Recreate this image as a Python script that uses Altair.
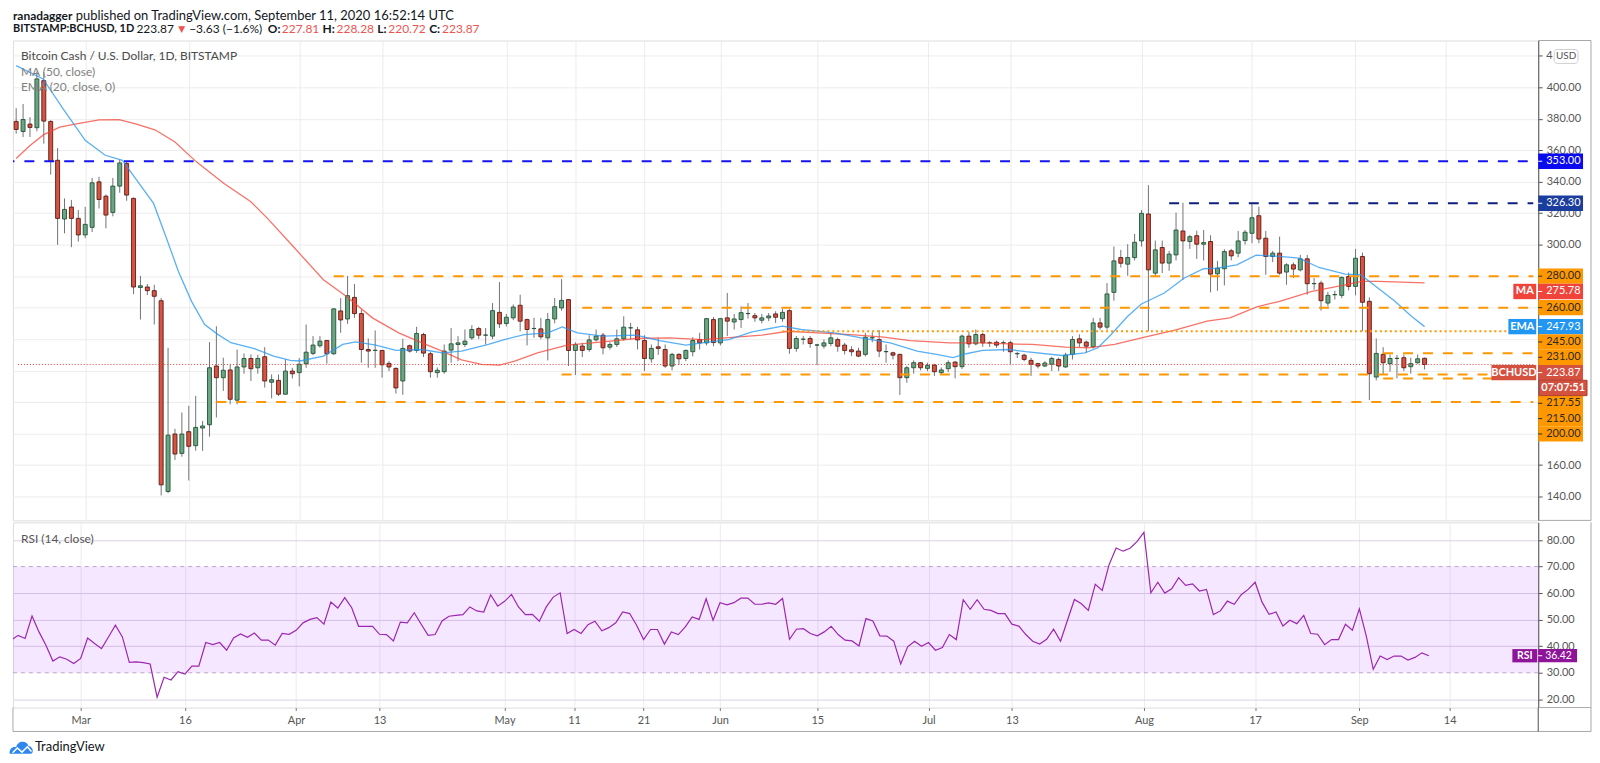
import json
import altair as alt
import pandas as pd

# ---------------------------------------------------------------- data
FIRST_CANDLE = "2020-02-20"
DAY_ZERO = "2020-03-01"          # x = 0 on the time axis

opens = [
    378.3, 371.9, 376.6, 374.3, 404.2, 378.3, 353.6, 316.3, 323.9, 316.7,
    306.2, 311.0, 339.9, 330.8, 320.5, 337.2, 351.5, 329.4, 272.8, 273.1,
    270.8, 264.4, 143.2, 179.7, 167.4, 181.2, 172.3, 183.5, 185.6, 222.9,
    215.5, 220.4, 201.2, 222.3, 227.7, 221.8, 228.8, 212.6, 213.8, 205.0,
    219.7, 218.7, 224.4, 230.9, 235.8, 239.1, 230.7, 257.9, 252.8, 266.5,
    256.2, 233.4, 232.8, 232.8, 224.6, 221.4, 213.4, 235.8, 232.8, 242.9,
    230.7, 218.7, 219.3, 233.0, 236.6, 236.6, 240.8, 246.7, 242.5, 241.9,
    257.0, 249.9, 253.5, 261.5, 252.4, 246.7, 246.5, 240.8, 252.8, 259.8,
    265.1, 232.8, 235.6, 233.4, 239.5, 242.5, 234.9, 236.6, 240.2, 247.1,
    245.9, 239.1, 227.5, 235.1, 233.4, 222.9, 230.3, 227.7, 232.0, 239.7,
    237.6, 252.4, 237.6, 253.5, 250.9, 252.4, 256.2, 254.9, 252.0, 253.5,
    256.0, 253.0, 258.1, 234.1, 239.9, 240.4, 236.2, 235.6, 237.2, 239.7,
    236.2, 233.2, 232.4, 230.3, 240.8, 239.7, 232.0, 231.3, 230.3, 215.5,
    221.8, 225.0, 221.4, 223.5, 218.7, 221.2, 225.4, 222.5, 241.9, 237.0,
    242.9, 237.6, 238.0, 237.6, 237.7, 230.7, 229.8, 226.5, 224.4, 222.9,
    224.0, 227.1, 222.3, 230.3, 240.2, 238.1, 235.1, 250.3, 247.6, 269.7,
    291.8, 287.6, 291.8, 302.4, 319.5, 281.9, 298.2, 288.3, 293.5, 308.7,
    302.0, 305.7, 300.3, 302.0, 281.5, 284.7, 296.1, 294.6, 302.6, 307.2,
    318.4, 304.1, 292.5, 294.6, 282.6, 287.2, 284.0, 291.0, 275.2, 275.6,
    262.9, 268.2, 267.8, 279.8, 273.5, 292.5, 264.0, 215.9, 230.3, 224.4,
    227.7, 228.2, 222.5, 225.0, 227.81,
]
highs = [
    386.7, 389.4, 381.0, 410.0, 409.5, 379.0, 361.4, 329.4, 328.3, 322.0,
    324.0, 342.4, 343.1, 331.9, 342.4, 354.0, 353.0, 330.0, 280.2, 275.0,
    274.5, 266.1, 234.5, 183.0, 193.4, 197.6, 204.0, 188.0, 238.1, 248.2,
    228.2, 224.0, 233.4, 230.9, 230.3, 230.0, 234.9, 217.6, 217.6, 227.1,
    221.8, 228.0, 249.3, 241.9, 241.9, 239.5, 259.7, 266.1, 280.2, 275.0,
    258.7, 240.4, 245.5, 233.0, 226.0, 222.0, 240.2, 236.6, 247.8, 244.0,
    232.0, 222.0, 236.6, 247.1, 241.9, 246.1, 248.8, 247.8, 247.1, 262.9,
    276.2, 256.0, 262.0, 268.2, 253.0, 253.5, 253.5, 256.6, 266.1, 278.1,
    265.5, 238.0, 237.6, 242.5, 246.1, 244.0, 238.0, 246.1, 254.5, 250.3,
    247.8, 242.5, 236.6, 240.8, 236.6, 231.3, 231.0, 233.4, 241.2, 244.0,
    253.5, 254.0, 253.5, 269.3, 256.0, 260.8, 262.9, 256.6, 256.0, 256.6,
    257.7, 259.2, 259.0, 242.0, 241.9, 241.9, 237.0, 239.8, 244.0, 241.0,
    237.6, 235.5, 234.5, 244.0, 244.4, 245.7, 236.6, 232.0, 230.7, 223.0,
    226.5, 225.5, 225.0, 224.4, 222.0, 226.5, 226.0, 242.9, 244.6, 246.1,
    244.0, 238.7, 239.0, 239.1, 239.0, 232.0, 230.7, 228.2, 225.0, 226.0,
    228.8, 228.2, 231.3, 241.9, 243.0, 239.0, 253.5, 253.5, 275.6, 298.8,
    296.7, 300.3, 306.8, 322.0, 337.8, 302.6, 302.6, 296.0, 320.3, 326.6,
    306.2, 308.9, 309.3, 306.0, 289.7, 297.1, 297.3, 308.7, 309.3, 326.2,
    324.1, 308.7, 296.0, 305.1, 288.2, 288.7, 293.5, 293.5, 278.8, 277.1,
    270.0, 270.7, 279.8, 282.3, 297.3, 295.0, 266.5, 240.4, 234.9, 230.3,
    230.0, 230.3, 228.2, 230.3, 228.28,
]
lows = [
    370.5, 368.4, 368.4, 372.0, 364.2, 344.5, 299.9, 307.2, 298.4, 302.0,
    304.1, 308.0, 323.0, 310.4, 318.0, 333.0, 327.9, 268.6, 252.4, 268.0,
    249.3, 140.7, 142.2, 163.2, 165.3, 150.2, 169.1, 169.0, 178.0, 190.2,
    207.1, 198.6, 198.6, 218.0, 213.4, 218.0, 209.2, 202.4, 203.9, 205.0,
    215.0, 210.0, 221.8, 229.8, 234.5, 224.4, 230.0, 244.0, 249.7, 253.5,
    225.0, 221.8, 221.8, 215.5, 219.7, 205.4, 204.6, 231.5, 231.3, 228.6,
    215.5, 215.5, 218.0, 225.0, 226.0, 235.0, 239.5, 240.0, 236.6, 240.0,
    247.0, 248.0, 252.0, 245.0, 236.0, 240.8, 240.0, 226.5, 250.0, 258.0,
    222.9, 217.2, 228.6, 232.0, 238.5, 230.3, 233.4, 235.0, 239.0, 239.8,
    233.4, 219.7, 225.0, 230.0, 221.8, 220.1, 223.7, 226.0, 229.0, 233.4,
    236.0, 235.5, 236.0, 241.9, 246.1, 247.1, 253.0, 251.0, 250.0, 251.4,
    250.3, 251.0, 230.7, 232.0, 236.6, 234.5, 223.5, 234.0, 235.5, 232.0,
    230.3, 229.2, 228.5, 229.0, 238.0, 228.6, 225.0, 227.1, 204.5, 212.3,
    218.0, 220.1, 219.7, 216.6, 217.5, 219.0, 215.1, 221.0, 234.5, 236.0,
    235.1, 235.0, 234.5, 232.0, 224.0, 228.0, 226.0, 216.6, 221.4, 222.3,
    219.7, 219.7, 221.8, 227.1, 234.9, 231.3, 234.0, 246.0, 246.0, 264.4,
    285.5, 280.2, 290.0, 298.8, 245.0, 279.8, 282.0, 283.4, 290.0, 277.7,
    297.3, 291.0, 290.0, 269.7, 270.7, 274.1, 290.0, 292.0, 300.0, 301.0,
    300.9, 280.9, 288.9, 280.9, 274.5, 278.8, 283.0, 268.2, 271.4, 258.1,
    260.8, 265.1, 266.0, 271.0, 267.8, 245.0, 201.2, 213.8, 217.6, 219.3,
    215.1, 219.7, 218.0, 224.4, 220.72,
]
closes = [
    373.2, 379.5, 374.5, 405.3, 378.5, 353.0, 316.7, 322.4, 316.7, 306.2,
    312.9, 339.3, 328.7, 318.8, 337.2, 351.9, 331.5, 273.1, 273.9, 270.8,
    267.2, 147.4, 179.0, 167.0, 179.7, 171.9, 183.9, 184.8, 221.8, 215.5,
    220.2, 201.8, 222.3, 227.7, 221.2, 227.7, 213.4, 214.2, 205.0, 219.7,
    218.0, 224.0, 231.7, 236.2, 238.7, 230.7, 259.2, 252.2, 267.6, 256.2,
    233.4, 232.4, 232.9, 223.7, 222.3, 209.0, 234.1, 232.4, 243.6, 231.1,
    219.3, 220.2, 232.4, 237.0, 237.6, 238.7, 246.1, 242.5, 242.6, 258.1,
    249.7, 253.9, 260.4, 251.4, 246.1, 246.8, 241.5, 252.4, 260.6, 264.6,
    232.8, 236.6, 232.8, 239.5, 241.9, 234.5, 236.6, 240.2, 247.6, 247.2,
    239.5, 227.7, 234.1, 234.1, 222.9, 230.3, 227.5, 232.8, 239.1, 237.6,
    253.0, 237.8, 253.0, 251.4, 252.8, 256.8, 256.3, 253.5, 253.5, 254.7,
    253.9, 257.0, 234.1, 240.4, 240.0, 237.2, 236.3, 237.6, 240.8, 235.5,
    232.8, 232.0, 229.2, 241.2, 240.9, 232.4, 232.1, 229.8, 215.5, 221.8,
    225.0, 221.8, 223.3, 219.3, 220.4, 225.0, 222.5, 241.9, 237.0, 242.9,
    237.6, 237.7, 236.2, 237.7, 232.0, 230.8, 227.1, 224.0, 222.9, 224.8,
    227.7, 222.9, 229.8, 239.8, 237.6, 235.5, 250.3, 247.6, 268.7, 289.7,
    288.2, 291.8, 301.5, 319.9, 284.0, 296.7, 288.3, 294.0, 309.3, 302.4,
    305.1, 300.3, 301.3, 281.3, 285.1, 295.6, 292.9, 302.4, 307.9, 317.1,
    303.6, 292.5, 294.6, 281.9, 287.2, 284.5, 291.0, 275.2, 275.3, 264.4,
    267.8, 268.3, 279.2, 273.5, 291.4, 263.4, 218.0, 230.9, 225.0, 227.7,
    227.8, 221.8, 224.4, 227.5, 223.87,
]

# MA(50) and EMA(20) (day offsets from 1 March)
ma_days = [-10, -8, -6, -3.7, -1.3, 2, 4.9, 7.3, 10.1, 13, 16.1, 20.1, 24, 26.4,
           29.7, 34.5, 37.8, 41.6, 45.4, 48.8, 51.7, 54.5, 57.4, 60, 62.2, 65.5,
           69.8, 75, 79.8, 84.6, 89.4, 94.2, 98, 101.8, 106.1, 110.9, 115.7,
           119.5, 125.2, 130, 133.8, 137.2, 142, 145.3, 149.1, 153, 157.7, 162.5,
           165.8, 169.7, 173, 177.7, 182.5, 184.9, 187.3, 194]
ma_vals = [354.7, 363.0, 369.9, 374.7, 376.8, 379.3, 379.5, 376.8, 373.0, 365.2,
           352.6, 338.9, 327.3, 316.7, 300.9, 277.7, 267.2, 253.5, 244.0, 237.6,
           232.4, 226.8, 224.0, 223.5, 226.0, 231.3, 236.2, 238.3, 240.4, 240.8,
           239.7, 241.2, 242.5, 245.0, 244.0, 242.9, 241.2, 239.1, 237.6, 237.6,
           237.0, 236.6, 234.9, 234.5, 236.6, 240.8, 245.5, 251.4, 253.5, 260.5,
           264.0, 270.3, 274.5, 276.7, 276.7, 275.78]
ema_days = [-10, -6.1, -3.2, 0, 2.9, 5.4, 7.3, 9.9, 11.6, 13.5, 15.4, 17.3, 19.2,
            21.1, 24.5, 27.3, 29.7, 31.1, 34.5, 37.3, 39.2, 42.1, 45, 48.8, 51.7,
            54.5, 58.4, 60.7, 63.6, 67, 69.1, 71.3, 75, 79.8, 83.2, 87, 89.4, 93.2,
            96.6, 101, 103.7, 108.5, 112.8, 116.6, 120.5, 123.3, 125.7, 127.6, 130,
            133.8, 136.2, 141.5, 144.8, 146.7, 148.6, 151, 153, 156.3, 159.2, 162,
            164, 166.8, 169.6, 173, 175.8, 178.7, 182.5, 184.7, 186.3, 189.7, 192.1,
            194]
ema_vals = [413.7, 405.3, 386.3, 366.3, 356.8, 353.6, 342.0, 326.2, 306.2, 283.0,
            264.0, 249.3, 243.0, 237.7, 234.0, 229.2, 226.5, 226.1, 229.2, 236.6,
            238.3, 236.2, 232.8, 233.4, 231.3, 232.4, 236.6, 239.7, 242.9, 244.0,
            247.8, 244.0, 241.9, 242.5, 239.1, 236.2, 237.6, 239.7, 244.6, 248.2,
            246.1, 244.0, 240.4, 237.6, 232.4, 230.3, 228.2, 230.7, 232.8, 233.4,
            232.0, 229.6, 231.3, 234.5, 242.9, 254.5, 262.3, 269.3, 278.8, 284.7,
            285.1, 287.2, 293.3, 292.5, 291.4, 285.5, 281.3, 280.9, 275.6, 264.0,
            254.5, 247.93]

# RSI(14), one value per candle
rsi_vals = [
    42.3, 44.1, 42.9, 51.4, 45.4, 40.4, 34.4, 36.0, 35.1, 33.5,
    35.4, 43.1, 41.0, 39.1, 43.5, 47.9, 43.5, 33.9, 34.1, 33.8,
    33.3, 20.8, 28.3, 27.3, 30.4, 29.5, 32.5, 32.5, 41.4, 40.6,
    41.4, 38.5, 43.1, 44.6, 43.4, 45.0, 42.3, 42.3, 40.4, 44.8,
    44.5, 46.0, 48.8, 50.1, 50.8, 48.3, 56.6, 54.4, 58.3, 54.5,
    47.5, 47.5, 47.5, 44.5, 44.4, 42.0, 49.1, 48.8, 52.6, 48.3,
    44.1, 44.4, 49.5, 51.3, 51.6, 51.9, 54.8, 53.3, 52.9, 59.4,
    55.1, 56.9, 59.5, 54.8, 51.9, 52.0, 49.4, 54.8, 58.5, 60.1,
    44.8, 46.3, 44.8, 48.1, 49.4, 45.8, 47.0, 48.8, 52.9, 52.3,
    47.9, 42.5, 46.3, 46.3, 40.8, 45.4, 44.4, 47.3, 51.0, 50.1,
    57.9, 49.8, 56.4, 55.6, 56.4, 58.1, 58.1, 55.8, 55.8, 56.3,
    55.8, 58.0, 42.6, 46.4, 46.6, 44.8, 43.9, 45.4, 47.5, 44.4,
    42.3, 42.0, 40.1, 50.4, 49.5, 43.9, 43.8, 41.9, 33.3, 39.8,
    41.9, 40.0, 41.4, 38.5, 39.5, 44.4, 42.5, 57.5, 53.9, 57.5,
    53.9, 53.5, 52.3, 52.3, 48.3, 47.6, 44.4, 41.9, 40.8, 42.6,
    46.4, 41.9, 49.8, 57.6, 56.0, 53.5, 63.3, 61.0, 70.8, 77.0,
    75.8, 76.9, 79.4, 82.9, 60.1, 64.1, 60.0, 61.6, 65.8, 62.9,
    63.5, 60.8, 61.4, 51.9, 53.3, 57.0, 55.8, 59.4, 61.4, 64.1,
    56.6, 52.0, 52.9, 47.6, 49.8, 48.5, 51.6, 44.8, 44.5, 40.6,
    42.5, 42.5, 48.3, 46.0, 54.1, 43.8, 31.3, 36.3, 35.0, 36.3,
    36.3, 34.8, 35.8, 37.5, 36.42,
]

tick_dates = ["2020-03-01", "2020-03-16", "2020-04-01", "2020-04-13", "2020-05-01",
              "2020-05-11", "2020-05-21", "2020-06-01", "2020-06-15", "2020-07-01",
              "2020-07-13", "2020-08-01", "2020-08-17", "2020-09-01", "2020-09-14"]
tick_labels = ["Mar", "16", "Apr", "13", "May", "11", "21", "Jun", "15", "Jul",
               "13", "Aug", "17", "Sep", "14"]

orange_levels = [280.0, 260.0, 231.0, 217.55, 215.0, 200.0]
orange_starts = ["2020-04-06", "2020-05-12", "2020-09-05", "2020-05-09", "2020-09-05", "2020-03-20"]
dotted_levels = [245.0]
dotted_starts = ["2020-06-10"]
blue_levels = [353.0]
blue_starts = ["2020-02-01"]
navy_levels = [326.3]
navy_starts = ["2020-08-05"]

price_axis_ticks = list(range(140, 421, 20))
rsi_axis_ticks = [20, 30, 40, 50, 60, 70, 80]
countdown = "07:07:51"

# ---------------------------------------------------------------- geometry
W = 1532
H_MAIN = 482
H_RSI = 186
PX_DAY = 6.98
PX_USD = 1.581
PX_RSI = 2.667
X0 = -9.742
X1 = X0 + W / PX_DAY
P_TOP = 429.7
P_BOT = P_TOP - H_MAIN / PX_USD
R_TOP = 86.64
R_BOT = R_TOP - H_RSI / PX_RSI

FONT = "Lato"
DARK = "#131722"
AXIS_TXT = "#555555"
GRID = "#ececec"
FRAME = "#a8a8a8"
AXIS_LINE = "#4f4f4f"
UP_FILL, UP_LINE = "#6ba583", "#225437"
DN_FILL, DN_LINE = "#d75442", "#5b1a13"
WICK = "#737375"
ORANGE = "#ff9800"
RED_TXT = "#ef5350"
MA_COL = "#f44336"
EMA_COL = "#2196f3"
PRICE_BOX = "#d4503f"
RSI_COL = "#8e1599"

day0 = pd.Timestamp(DAY_ZERO)


def dayoff(d):
    return (pd.Timestamp(d) - day0).days


first = dayoff(FIRST_CANDLE)
days = list(range(first, first + len(closes)))
tick_days = [dayoff(d) for d in tick_dates]

candles = pd.DataFrame({"day": days, "open": opens, "high": highs,
                        "low": lows, "close": closes})
ma_df = pd.DataFrame({"day": ma_days, "v": ma_vals})
ema_df = pd.DataFrame({"day": ema_days, "v": ema_vals})
rsi_df = pd.DataFrame({"day": days, "rsi": rsi_vals})


def levels(prices, starts):
    return pd.DataFrame({"price": prices, "start": [dayoff(s) for s in starts],
                         "end": [X1] * len(prices)})


label_expr = "%s[indexof(%s, datum.value)]" % (json.dumps(tick_labels), json.dumps(tick_days))
TOP_TICK = price_axis_ticks[-1]          # its label sits under the USD badge

x_scale = alt.Scale(domain=[X0, X1], nice=False, zero=False)
x_axis_main = alt.Axis(values=tick_days, labels=False, ticks=False, domain=False,
                       grid=True, gridColor=GRID, title=None)
x_axis_rsi = alt.Axis(values=tick_days, labelExpr=label_expr, ticks=True, tickSize=3,
                      tickColor="#777777", labelPadding=4, domain=False, grid=True,
                      gridColor=GRID, title=None, labelFontSize=11, labelColor=AXIS_TXT,
                      labelFont=FONT, labelFlush=False)
y_scale = alt.Scale(domain=[P_BOT, P_TOP], nice=False, zero=False)
y_axis = alt.Axis(orient="right", values=price_axis_ticks, title=None,
                  labelExpr="datum.value == %d ? '' : format(datum.value, '.2f')" % TOP_TICK,
                  labelFontSize=11, labelColor=AXIS_TXT, labelFont=FONT, tickSize=4,
                  tickColor=AXIS_TXT, labelPadding=4, domainColor=AXIS_LINE,
                  gridColor=GRID, labelFlush=False)
r_scale = alt.Scale(domain=[R_BOT, R_TOP], nice=False, zero=False)
r_axis = alt.Axis(orient="right", values=rsi_axis_ticks, format=".2f", title=None,
                  labelFontSize=11, labelColor=AXIS_TXT, labelFont=FONT, tickSize=4,
                  tickColor=AXIS_TXT, labelPadding=4, domainColor=AXIS_LINE,
                  gridColor="#dcd3e3",
                  gridOpacity=alt.condition("datum.value == 30 || datum.value == 70",
                                            alt.value(0), alt.value(1)),
                  labelFlush=False)


def X(field="day"):
    return alt.X(f"{field}:Q", scale=x_scale, axis=x_axis_main)


def Y(field):
    return alt.Y(f"{field}:Q", scale=y_scale, axis=y_axis)


def XR(field="day"):
    return alt.X(f"{field}:Q", scale=x_scale, axis=x_axis_rsi)


def YR(field):
    return alt.Y(f"{field}:Q", scale=r_scale, axis=r_axis)


ONE = pd.DataFrame({"k": [0]})


def txt(text, x, y, size=12, color=DARK, weight="normal", align="left", font=FONT):
    return alt.Chart(ONE).mark_text(text=text, align=align, baseline="middle",
                                    fontSize=size, font=font, fontWeight=weight,
                                    color=color).encode(x=alt.value(x), y=alt.value(y))


def hline(x, x2, y, color=FRAME, width=1):
    return alt.Chart(ONE).mark_rule(color=color, strokeWidth=width).encode(
        x=alt.value(x), x2=alt.value(x2), y=alt.value(y))


def vline(x, y, y2, color=FRAME, width=1):
    return alt.Chart(ONE).mark_rule(color=color, strokeWidth=width).encode(
        x=alt.value(x), y=alt.value(y), y2=alt.value(y2))


# ---------------------------------------------------------------- main panel
is_up = "datum.close >= datum.open"
wicks = alt.Chart(candles).mark_rule(color=WICK, strokeWidth=1, clip=True).encode(
    x=X(), y=Y("low"), y2="high:Q")
bodies = alt.Chart(candles).mark_bar(size=4, strokeWidth=0.9, clip=True).encode(
    x=X(), y=Y("open"), y2="close:Q",
    fill=alt.condition(is_up, alt.value(UP_FILL), alt.value(DN_FILL)),
    stroke=alt.condition(is_up, alt.value(UP_LINE), alt.value(DN_LINE)))
ma_line = alt.Chart(ma_df).mark_line(color=MA_COL, opacity=0.75, strokeWidth=1.3,
                                     clip=True).encode(x=X(), y=Y("v"))
ema_line = alt.Chart(ema_df).mark_line(color=EMA_COL, opacity=0.75, strokeWidth=1.3,
                                       clip=True).encode(x=X(), y=Y("v"))


def level_layer(df, color, dash, width=2):
    return alt.Chart(df).mark_rule(color=color, strokeDash=dash, strokeWidth=width,
                                   clip=True).encode(x=X("start"), x2="end:Q", y=Y("price"))


lv_orange = level_layer(levels(orange_levels, orange_starts), ORANGE, [10, 10])
lv_dotted = level_layer(levels(dotted_levels, dotted_starts), ORANGE, [2, 3])
lv_blue = level_layer(levels(blue_levels, blue_starts), "#1414f0", [10, 10])
lv_navy = level_layer(levels(navy_levels, navy_starts), "#0e1f80", [10, 10])
last_df = pd.DataFrame({"price": [closes[-1]], "start": [X0], "end": [X1]})
lv_last = alt.Chart(last_df).mark_rule(color="#e0453a", strokeDash=[1, 2],
                                       strokeWidth=1, clip=True).encode(
    x=X("start"), x2="end:Q", y=Y("price"))

# right-hand price labels, pushed down so they never overlap
lab_rows = [
    ("353.00", 353.0, "#0a0af0", "white"),
    ("326.30", 326.3, "#1b3d9e", "white"),
    ("280.00", 280.0, ORANGE, "#2a2a2a"),
    ("%.2f" % ma_vals[-1], ma_vals[-1], "#f0443a", "white"),
    ("260.00", 260.0, ORANGE, "#2a2a2a"),
    ("%.2f" % ema_vals[-1], ema_vals[-1], EMA_COL, "white"),
    ("245.00", 245.0, ORANGE, "#2a2a2a"),
    ("231.00", 231.0, ORANGE, "#2a2a2a"),
    ("%.2f" % closes[-1], closes[-1], PRICE_BOX, "white"),
    (countdown, closes[-1], PRICE_BOX, "white"),
    ("217.55", 217.55, ORANGE, "#2a2a2a"),
    ("215.00", 215.0, ORANGE, "#2a2a2a"),
    ("200.00", 200.0, ORANGE, "#2a2a2a"),
]
STEP = 15.4
rows, prev = [], -1e9
for text, price, bg, fg in lab_rows:
    own = (P_TOP - price) * PX_USD
    c = max(own, prev + STEP)
    prev = c
    pc = P_TOP - c / PX_USD
    half = (STEP / 2) / PX_USD
    rows.append({"text": text, "yc": pc, "yt": pc + half, "yb": pc - half,
                 "bg": bg, "fg": fg, "timer": text == countdown})
labs = pd.DataFrame(rows)
reg = labs[~labs.timer]
tim = labs[labs.timer]

lab_box = alt.Chart(reg).mark_rect().encode(
    x=alt.value(W), x2=alt.value(W + 45), y=Y("yt"), y2="yb:Q",
    fill=alt.Color("bg:N", scale=None))
lab_tick = alt.Chart(reg).mark_rule(strokeWidth=1).encode(
    x=alt.value(W), x2=alt.value(W + 4), y=Y("yc"), color=alt.Color("fg:N", scale=None))
lab_txt = alt.Chart(reg).mark_text(align="left", baseline="middle", fontSize=11,
                                   font=FONT).encode(
    x=alt.value(W + 8), y=Y("yc"), text="text:N", color=alt.Color("fg:N", scale=None))
tim_box = alt.Chart(tim).mark_rect(stroke="#b03a2e", strokeWidth=1).encode(
    x=alt.value(W + 1), x2=alt.value(W + 49), y=Y("yt"), y2="yb:Q",
    fill=alt.Color("bg:N", scale=None))
tim_txt = alt.Chart(tim).mark_text(align="center", baseline="middle", fontSize=11,
                                   font=FONT, fontWeight="bold").encode(
    x=alt.value(W + 25), y=Y("yc"), text="text:N", color=alt.Color("fg:N", scale=None))


def name_tag(name, text, x0, bg):
    d = labs[labs.text == text]
    box = alt.Chart(d).mark_rect().encode(x=alt.value(x0), x2=alt.value(W - 2),
                                          y=Y("yt"), y2="yb:Q", fill=alt.value(bg))
    t = alt.Chart(d).mark_text(text=name, align="center", baseline="middle", fontSize=11,
                               font=FONT, fontWeight="bold", color="white").encode(
        x=alt.value((x0 + W - 2) / 2), y=Y("yc"))
    return [box, t]


tags = (name_tag("MA", "%.2f" % ma_vals[-1], W - 25, "#f0443a")
        + name_tag("EMA", "%.2f" % ema_vals[-1], W - 30, EMA_COL)
        + name_tag("BCHUSD", "%.2f" % closes[-1], W - 47, PRICE_BOX))

# top tick label: only its first digit peeks out from under the USD badge
top_digit = alt.Chart(ONE).mark_text(text=str(TOP_TICK)[0], align="left", baseline="middle",
                                     fontSize=11, font=FONT, color=AXIS_TXT).encode(
    x=alt.value(W + 8), y=alt.value((P_TOP - TOP_TICK) * PX_USD))
usd_box = alt.Chart(ONE).mark_rect(fill="white", stroke="#cfcfcf", strokeWidth=1,
                                   cornerRadius=3).encode(
    x=alt.value(W + 16), x2=alt.value(W + 40), y=alt.value(9), y2=alt.value(23))
usd_txt = txt("USD", W + 28, 16, size=10, color=AXIS_TXT, align="center")

L1, L2 = -24.5, -11.5
header = [
    txt("ranadagger", 0, L1, weight="bold"),
    txt("published on TradingView.com, September 11, 2020 16:52:14 UTC", 63, L1, size=13),
    txt("BITSTAMP:BCHUSD, 1D", 0, L2, size=11, weight="bold"),
    txt("223.87", 124, L2),
    txt("\u25bc", 166, L2, size=9, color=RED_TXT, font="DejaVu Sans"),
    txt("\u22123.63 (\u22121.6%)", 177, L2),
    txt("O:", 256, L2, weight="bold"), txt("227.81", 270, L2, color=RED_TXT),
    txt("H:", 311, L2, weight="bold"), txt("228.28", 325, L2, color=RED_TXT),
    txt("L:", 366, L2, weight="bold"), txt("220.72", 377, L2, color=RED_TXT),
    txt("C:", 418, L2, weight="bold"), txt("223.87", 431, L2, color=RED_TXT),
    txt("Bitcoin Cash / U.S. Dollar, 1D, BITSTAMP", 8, 15.3, color="#4a4a4a"),
    txt("MA (50, close)", 8, 31.3, color="#808080"),
    txt("EMA (20, close, 0)", 8, 47, color="#808080"),
]

frames_main = [
    hline(W, W + 53, 0), hline(W, W + 53, H_MAIN), vline(W + 53, 0, H_MAIN),
]

main = alt.layer(
    wicks, bodies, ma_line, ema_line,
    lv_blue, lv_navy, lv_orange, lv_dotted, lv_last,
    lab_box, lab_tick, lab_txt, tim_box, tim_txt, *tags,
    top_digit, usd_box, usd_txt, *header, *frames_main,
).properties(width=W, height=H_MAIN)

# ---------------------------------------------------------------- RSI panel
band = alt.Chart(pd.DataFrame({"hi": [70], "lo": [30]})).mark_rect(
    fill="#9915ff", fillOpacity=0.1).encode(
    x=alt.value(0), x2=alt.value(W), y=YR("hi"), y2="lo:Q")
band_lines = alt.Chart(pd.DataFrame({"lvl": [30, 70]})).mark_rule(
    color="#b9a6c9", strokeDash=[4, 4], strokeWidth=1).encode(
    x=alt.value(0), x2=alt.value(W), y=YR("lvl"))
rsi_line = alt.Chart(rsi_df).mark_line(color="#9c27b0", strokeWidth=1.2,
                                       clip=True).encode(x=XR(), y=YR("rsi"))
rsi_last = pd.DataFrame({"yc": [rsi_vals[-1]], "yt": [rsi_vals[-1] + 2.5],
                         "yb": [rsi_vals[-1] - 2.5], "text": ["%.2f" % rsi_vals[-1]]})
rsi_box = alt.Chart(rsi_last).mark_rect(fill=RSI_COL).encode(
    x=alt.value(W), x2=alt.value(W + 39), y=YR("yt"), y2="yb:Q")
rsi_tag = alt.Chart(rsi_last).mark_rect(fill=RSI_COL).encode(
    x=alt.value(W - 26), x2=alt.value(W - 1), y=YR("yt"), y2="yb:Q")
rsi_tick = alt.Chart(rsi_last).mark_rule(color="white").encode(
    x=alt.value(W), x2=alt.value(W + 4), y=YR("yc"))
rsi_val = alt.Chart(rsi_last).mark_text(align="left", baseline="middle", fontSize=10.5,
                                        font=FONT, color="white").encode(
    x=alt.value(W + 7), y=YR("yc"), text="text:N")
rsi_name = alt.Chart(rsi_last).mark_text(text="RSI", align="center", baseline="middle",
                                         fontSize=10.5, font=FONT, fontWeight="bold",
                                         color="white").encode(
    x=alt.value(W - 13.5), y=YR("yc"))

LOGO_X, LOGO_Y = 8.5, 226
logo_cloud = alt.Chart(ONE).mark_point(
    shape="M -1 0.55 C -1.05 0.1 -0.7 -0.1 -0.45 0 C -0.35 -0.6 0.45 -0.65 0.6 -0.1 "
          "C 1 -0.12 1.1 0.55 0.75 0.55 Z",
    filled=True, fill="#2e86f0", strokeWidth=0, size=560, opacity=1).encode(
    x=alt.value(LOGO_X), y=alt.value(LOGO_Y))
logo_zig = alt.Chart(ONE).mark_point(
    shape="M -0.75 0.45 L -0.35 0.05 L 0.05 0.4 L 0.5 -0.05 L 0.85 0.35",
    filled=False, stroke="white", strokeWidth=1.6, size=560, opacity=1).encode(
    x=alt.value(LOGO_X), y=alt.value(LOGO_Y))

frames_rsi = [
    hline(W, W + 53, H_RSI), hline(0, W + 53, H_RSI + 24), vline(W + 53, 0, H_RSI + 24),
    vline(W, H_RSI, H_RSI + 24, color=AXIS_LINE), vline(0, H_RSI, H_RSI + 24),
]

rsi = alt.layer(
    band, band_lines, rsi_line, rsi_box, rsi_tag, rsi_tick, rsi_val, rsi_name,
    txt("RSI (14, close)", 8, 16.7, color="#555555"),
    txt("TradingView", 22, 226, size=13, color=DARK),
    logo_cloud, logo_zig, *frames_rsi,
).properties(width=W, height=H_RSI)

chart = alt.vconcat(main, rsi, spacing=0).properties(padding=0).configure_view(
    stroke=FRAME, strokeWidth=1).configure(font=FONT)

chart.save("out.html", embed_options={"renderer": "svg", "actions": False})
